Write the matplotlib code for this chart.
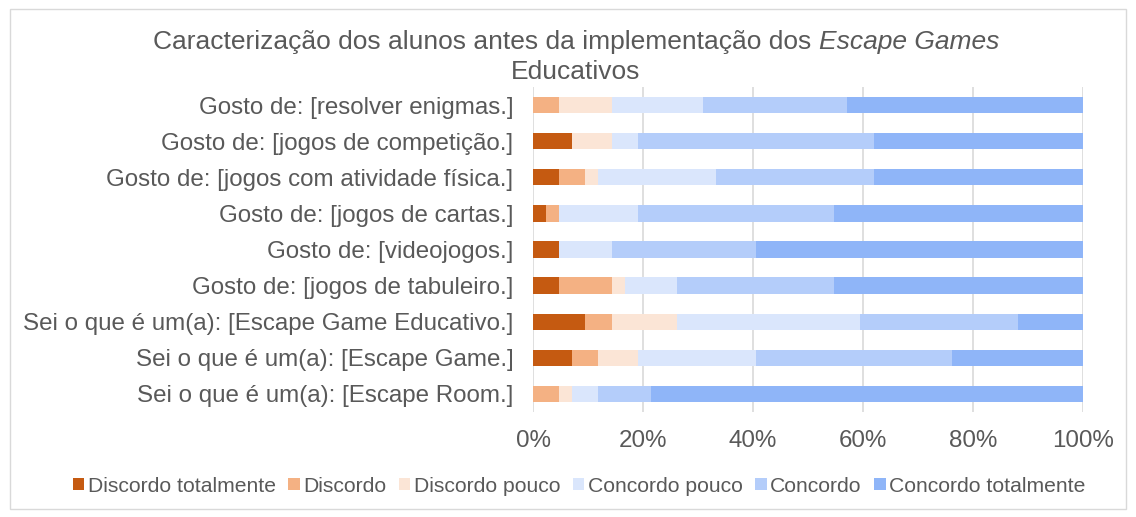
import numpy as np
import matplotlib.pyplot as plt
from matplotlib.patches import Rectangle

plt.rcParams['font.family'] = ['Liberation Sans', 'DejaVu Sans']

# Data (answers out of 42 students), top row first as in the picture
items = ['Gosto de: [resolver enigmas.]',
         'Gosto de: [jogos de competição.]',
         'Gosto de: [jogos com atividade física.]',
         'Gosto de: [jogos de cartas.]',
         'Gosto de: [videojogos.]',
         'Gosto de: [jogos de tabuleiro.]',
         'Sei o que é um(a): [Escape Game Educativo.]',
         'Sei o que é um(a): [Escape Game.]',
         'Sei o que é um(a): [Escape Room.]']
levels = ['Discordo totalmente', 'Discordo', 'Discordo pouco',
          'Concordo pouco', 'Concordo', 'Concordo totalmente']
disc_total = [0, 3, 2, 1, 2, 2, 4, 3, 0]
disc       = [2, 0, 2, 1, 0, 4, 2, 2, 2]
disc_pouco = [4, 3, 1, 0, 0, 1, 5, 3, 1]
conc_pouco = [7, 2, 9, 6, 4, 4, 14, 9, 2]
conc       = [11, 18, 12, 15, 11, 12, 12, 15, 4]
conc_total = [18, 16, 16, 19, 25, 19, 5, 10, 33]
colors = ['#C55A11', '#F4B183', '#FBE5D6', '#DAE6FC', '#B4CDFA', '#8FB5F8']

series = np.array([disc_total, disc, disc_pouco, conc_pouco, conc, conc_total], dtype=float)
pct = series / series.sum(axis=0) * 100

fig = plt.figure(figsize=(11.36, 5.17), dpi=100)
ax = fig.add_axes([0.4692, 0.2031, 0.4842, 0.6286])

y = np.arange(len(items))[::-1]
left = np.zeros(len(items))
for vals, lab, col in zip(pct, levels, colors):
    ax.barh(y, vals, left=left, height=0.45, color=col, label=lab, zorder=3)
    left += vals

c = '#595959'
ax.set_xlim(0, 100)
ax.set_ylim(-0.5, len(items) - 0.5)
ax.set_yticks(y)
ax.set_yticklabels(items, fontsize=17.4, color=c)
ax.set_xticks(np.arange(0, 101, 20))
ax.set_xticklabels([f'{v}%' for v in range(0, 101, 20)], fontsize=17.4, color=c)
ax.tick_params(length=0)
ax.tick_params(axis='y', pad=14)
ax.tick_params(axis='x', pad=13)
ax.grid(axis='x', color='#D9D9D9', linewidth=1.2, zorder=0)
for s in ax.spines.values():
    s.set_visible(False)

# title with italic part
fig.canvas.draw()
r = fig.canvas.get_renderer()
t1 = fig.text(0, 1 - 42 / 517, 'Caracterização dos alunos antes da implementação dos ',
              fontsize=19, color=c, va='center')
t2 = fig.text(0, 1 - 42 / 517, 'Escape Games', fontsize=19, color=c, va='center',
              style='italic')
w1 = t1.get_window_extent(r).width
w2 = t2.get_window_extent(r).width
x0 = (576 - (w1 + w2) / 2) / 1136
t1.set_x(x0)
t2.set_x(x0 + w1 / 1136)
fig.text(576 / 1136, 1 - 72 / 517, 'Educativos', fontsize=19, color=c,
         ha='center', va='center')

fig.legend(loc='center', bbox_to_anchor=(579 / 1136, 1 - 486 / 517), ncol=6,
           frameon=False, fontsize=15.2, handlelength=0.55, handleheight=0.55,
           handletextpad=0.15, columnspacing=0.6, labelcolor=c)

fig.patches.append(Rectangle((10 / 1136, 1 - 509 / 517), 1116 / 1136, 500 / 517,
                             transform=fig.transFigure, fill=False,
                             edgecolor='#D9D9D9', linewidth=1))

fig.savefig('out.png', dpi=100)
